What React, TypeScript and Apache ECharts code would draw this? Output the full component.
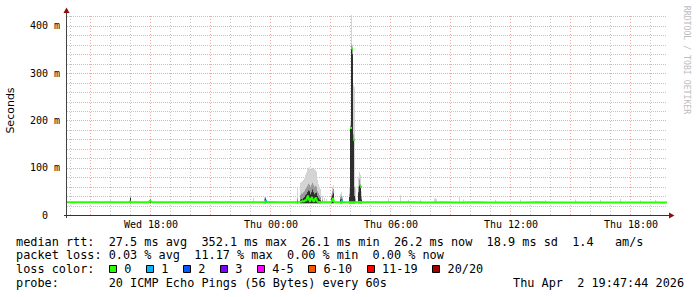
import React, { useEffect, useRef } from "react";
import * as echarts from "echarts";

// x values are hours since Wed 00:00
const X_MIN = 13.8;
const X_MAX = 43.8;
const Y_MAX = 423;
const STEP = 0.05; // one rrd step (3 minutes)
const SMOKE_BASE = 25;

const X_LABEL_HOURS = [18, 24, 30, 36, 42];
const X_LABEL_TEXT = ["Wed 18:00", "Thu 00:00", "Thu 06:00", "Thu 12:00", "Thu 18:00"];
const X_MINOR_GRID = [14, 16, 17, 19, 20, 22, 23, 25, 26, 28, 29, 31, 32, 34, 35, 37, 38, 40, 41, 43];
const X_MAJOR_GRID = [15, 18, 21, 24, 27, 30, 33, 36, 39, 42];
const Y_MINOR_GRID = [20, 40, 60, 80, 120, 140, 160, 180, 220, 240, 260, 280, 320, 340, 360, 380, 420];
const Y_MAJOR_GRID = [100, 200, 300, 400];
const Y_LABEL_VALUES = [0, 100, 200, 300, 400];
const Y_LABEL_TEXT = ["0\u00a0\u00a0", "100 m", "200 m", "300 m", "400 m"];

// median rtt [hour, ms]
const MEDIAN: [number, number][] = [
  [13.8, 27.0], [14.6, 26.8], [15.4, 27.1], [16.2, 26.9], [16.9, 27.0], [16.95, 29.0], [17.0, 27.0],
  [17.6, 27.2], [17.9, 27.0], [17.95, 31.0], [18.0, 28.0], [18.05, 27.1], [18.8, 26.9], [19.6, 27.2],
  [20.4, 26.9], [21.2, 27.1], [22.0, 26.8], [22.8, 27.0], [23.6, 27.1], [23.75, 27.4], [24.4, 27.0],
  [25.0, 26.9], [25.4, 27.2], [25.5, 28.0], [25.6, 29.5], [25.65, 28.0], [25.7, 32.0], [25.75, 30.0],
  [25.8, 36.0], [25.85, 41.0], [25.9, 33.0], [25.95, 28.0], [26.0, 35.0], [26.05, 38.0], [26.1, 30.0],
  [26.15, 28.0], [26.2, 34.0], [26.25, 37.0], [26.3, 29.0], [26.35, 28.0], [26.45, 27.5], [26.6, 27.0],
  [27.0, 27.2], [27.05, 30.0], [27.1, 36.0], [27.15, 28.0], [27.2, 27.1], [27.9, 27.0], [28.2, 27.0],
  [28.45, 27.5], [28.6, 26.9], [29.4, 27.0], [30.2, 26.8], [31.0, 27.0], [31.8, 26.6], [32.6, 26.9],
  [33.4, 26.6], [34.2, 26.8], [35.0, 26.6], [35.8, 26.7], [36.6, 26.5], [37.4, 26.8], [38.2, 26.6],
  [39.0, 26.5], [39.8, 26.7], [40.6, 26.5], [41.4, 26.6], [42.2, 26.4], [43.0, 26.3], [43.8, 26.2],
];

// isolated median steps drawn with their loss colour [hour, ms, loss index]
const PEAKS: [number, number, number][] = [
  [23.7, 30, 1], [27.5, 30, 1], [27.95, 184, 0], [28.0, 352, 0], [28.1, 159, 0], [28.45, 60, 0],
];

// smoke columns [hour, outer top ms, middle top ms, core top ms]
const SMOKE: [number, number, number, number][] = [
  [15.95, 34, 0, 0], [16.95, 42, 38, 36], [17.95, 36, 33, 32], [23.1, 36, 0, 0], [23.65, 38, 34, 0],
  [23.7, 40, 37, 35], [25.3, 58, 35, 30], [25.45, 68, 42, 32], [25.5, 70, 46, 34], [25.55, 72, 45, 33],
  [25.6, 74, 48, 36], [25.65, 78, 50, 38], [25.7, 85, 55, 42], [25.75, 90, 58, 44], [25.8, 96, 62, 48],
  [25.85, 100, 66, 52], [25.9, 101, 64, 50], [25.95, 95, 60, 44], [26.0, 99, 64, 48], [26.05, 100, 68, 54],
  [26.1, 98, 64, 48], [26.15, 96, 60, 44], [26.2, 95, 62, 46], [26.25, 92, 60, 47], [26.3, 75, 50, 40],
  [26.35, 65, 46, 36], [26.4, 60, 42, 33], [26.45, 55, 38, 31], [26.55, 40, 32, 0], [26.65, 36, 0, 0],
  [26.75, 34, 0, 0], [27.0, 45, 40, 36], [27.05, 60, 50, 42], [27.1, 63, 55, 46], [27.45, 45, 38, 33],
  [27.5, 48, 40, 34], [27.55, 40, 35, 0], [27.9, 60, 45, 38], [27.95, 200, 190, 184], [28.0, 430, 360, 352],
  [28.05, 360, 352, 340], [28.1, 275, 170, 159], [28.15, 270, 60, 40], [28.2, 60, 35, 0], [28.35, 80, 60, 48],
  [28.4, 91, 75, 62], [28.45, 85, 65, 58], [28.5, 50, 40, 33], [29.85, 36, 0, 0], [30.45, 42, 0, 0],
  [30.85, 32, 0, 0], [31.45, 33, 0, 0], [32.15, 35, 0, 0], [32.2, 35, 0, 0], [32.25, 34, 0, 0],
  [33.4, 40, 0, 0], [33.6, 33, 0, 0], [35.2, 32, 0, 0], [36.45, 33, 0, 0], [37.7, 31, 0, 0],
  [39.2, 33, 0, 0], [40.45, 32, 0, 0], [41.45, 34, 0, 0], [42.45, 31, 0, 0], [43.2, 32, 0, 0],
];

const LOSS_LABELS = ["0", "1", "2", "3", "4-5", "6-10", "11-19", "20/20"];
const LOSS_COLORS = ["#26ff00", "#00b8ff", "#0059ff", "#7e00ff", "#ff00ff", "#ff5500", "#ff0000", "#a10000"];

const LINE1 = "median rtt:  27.5 ms avg  352.1 ms max  26.1 ms min  26.2 ms now  18.9 ms sd  1.4   am/s";
const LINE2 = "packet loss: 0.03 % avg  11.17 % max  0.00 % min  0.00 % now";
const LINE3 = "loss color:";
const LINE4 = "probe:       20 ICMP Echo Pings (56 Bytes) every 60s";
const DATE_TEXT = "Thu Apr  2 19:47:44 2026";

const MONO = "'DejaVu Sans Mono', monospace";
const CW = 7.13;
const nb = (s: string) => s.replace(/ /g, "\u00a0");

export default function App() {
  const ref = useRef<HTMLDivElement>(null);
  useEffect(() => {
    if (!ref.current) return;
    const chart = echarts.init(ref.current, undefined, { renderer: "svg" });

    const texts: any[] = [];
    const legendFont = { fontFamily: MONO, fontSize: 11.85, fill: "#000" };
    const addText = (x: number, y: number, t: string) =>
      texts.push({ type: "text", x, y, style: { ...legendFont, text: nb(t), textVerticalAlign: "middle" } });
    addText(16, 241.7, LINE1);
    addText(16, 255.2, LINE2);
    addText(16, 269.3, LINE3);
    addText(16, 282.8, LINE4);
    addText(513, 282.8, DATE_TEXT);

    let bx = 108.7;
    LOSS_LABELS.forEach((lab, i) => {
      texts.push({
        type: "rect",
        shape: { x: Math.round(bx) + 0.5, y: 265.5, width: 7, height: 7 },
        style: { fill: LOSS_COLORS[i], stroke: "#000", lineWidth: 1 },
      });
      addText(bx + 15.5, 269.3, lab);
      bx += 15.5 + lab.length * CW + 14.4;
    });

    const MINOR_COLOR = "#c4c4c4";
    const MAJOR_COLOR = "#f0a8a8";

    const gridSeries = (vals: number[], vertical: boolean, color: string, z: number) => ({
      type: "custom", z, clip: false, silent: true,
      data: vals.map((v) => (vertical ? [v, 0] : [X_MIN, v])),
      encode: { x: 0, y: 1 },
      renderItem: (params: any, api: any) => {
        const cs = params.coordSys;
        const p = api.coord([api.value(0), api.value(1)]);
        if (vertical) {
          const x = Math.round(p[0]) - 0.5;
          return {
            type: "line", shape: { x1: x, y1: cs.y + cs.height, x2: x, y2: cs.y },
            style: { stroke: color, lineWidth: 1, lineDash: [1, 2] },
          };
        }
        const y = Math.round(p[1]) + 0.5;
        return {
          type: "line", shape: { x1: cs.x, y1: y, x2: cs.x + cs.width, y2: y },
          style: { stroke: color, lineWidth: 1, lineDash: [1, 1] },
        };
      },
    });

    const option: any = {
      animation: false,
      grid: { left: 67, top: 15, width: 600, height: 200 },
      xAxis: {
        type: "value", min: X_MIN, max: X_MAX,
        axisLine: { show: false }, axisTick: { show: false }, splitLine: { show: false },
        axisLabel: {
          customValues: X_LABEL_HOURS,
          formatter: (v: number) => {
            const i = X_LABEL_HOURS.indexOf(Math.round(v * 100) / 100);
            return i >= 0 ? X_LABEL_TEXT[i] : "";
          },
          fontFamily: MONO, fontSize: 10, color: "#000", margin: 4,
        },
      },
      yAxis: {
        type: "value", min: 0, max: Y_MAX, interval: 100,
        axisLine: { show: false }, axisTick: { show: false }, splitLine: { show: false },
        axisLabel: {
          formatter: (v: number) => {
            const i = Y_LABEL_VALUES.indexOf(v);
            return i >= 0 ? Y_LABEL_TEXT[i] : "";
          },
          fontFamily: MONO, fontSize: 10, color: "#000", margin: 7,
        },
      },
      series: [
        gridSeries(X_MINOR_GRID, true, MINOR_COLOR, 1),
        gridSeries(Y_MINOR_GRID, false, MINOR_COLOR, 1),
        gridSeries(X_MAJOR_GRID, true, MAJOR_COLOR, 1),
        gridSeries(Y_MAJOR_GRID, false, MAJOR_COLOR, 1),
        {
          type: "custom", z: 2, clip: true, silent: true,
          data: SMOKE,
          encode: { x: 0, y: 1 },
          renderItem: (_p: any, api: any) => {
            const t = api.value(0);
            const [x0, yb] = api.coord([t, SMOKE_BASE]);
            const x1 = api.coord([t + STEP, SMOKE_BASE])[0];
            const w = Math.max(1, x1 - x0);
            const children: any[] = [];
            const layer = (v: number, color: string) => {
              if (v > SMOKE_BASE) {
                const yt = api.coord([t, Math.min(v, Y_MAX)])[1];
                children.push({ type: "rect", shape: { x: x0, y: yt, width: w, height: yb - yt }, style: { fill: color } });
              }
            };
            layer(api.value(1), "#d4d4d4");
            layer(api.value(2), "#9a9a9a");
            layer(api.value(3), "#2e2e2e");
            return { type: "group", children };
          },
        },
        {
          type: "line", z: 3, data: MEDIAN, symbol: "none", silent: true,
          lineStyle: { color: LOSS_COLORS[0], width: 2 },
        },
        {
          type: "custom", z: 4, clip: true, silent: true,
          data: PEAKS,
          encode: { x: 0, y: 1 },
          renderItem: (_p: any, api: any) => {
            const [x, y] = api.coord([api.value(0), api.value(1)]);
            return {
              type: "rect", shape: { x: x, y: y - 1, width: 2, height: 2 },
              style: { fill: LOSS_COLORS[api.value(2)] },
            };
          },
        },
      ],
      graphic: [
        { type: "line", shape: { x1: 66.5, y1: 218, x2: 66.5, y2: 12 }, style: { stroke: "#444", lineWidth: 1 }, z: 10 },
        { type: "line", shape: { x1: 64, y1: 215.5, x2: 669, y2: 215.5 }, style: { stroke: "#333", lineWidth: 1 }, z: 10 },
        { type: "polygon", shape: { points: [[66.5, 7.5], [63.5, 13], [69.5, 13]] }, style: { fill: "#8b1010" }, z: 10 },
        { type: "polygon", shape: { points: [[674.5, 215.5], [669, 212.5], [669, 218.5]] }, style: { fill: "#8b1010" }, z: 10 },
        {
          type: "text", x: 10, y: 110.5, rotation: Math.PI / 2,
          style: { text: "Seconds", fontFamily: "'DejaVu Sans', sans-serif", fontSize: 11, fill: "#000", textAlign: "center", textVerticalAlign: "middle" },
        },
        {
          type: "text", x: 687, y: 60, rotation: -Math.PI / 2,
          style: { text: "RRDTOOL / TOBI OETIKER", fontFamily: MONO, fontSize: 8.2, fill: "#bdbdbd", textAlign: "center", textVerticalAlign: "middle" },
        },
        ...texts,
      ],
    };
    chart.setOption(option);
    return () => chart.dispose();
  }, []);

  return <div ref={ref} style={{ position: "fixed", left: 0, top: 0, width: 697, height: 297, background: "#fff" }} />;
}
